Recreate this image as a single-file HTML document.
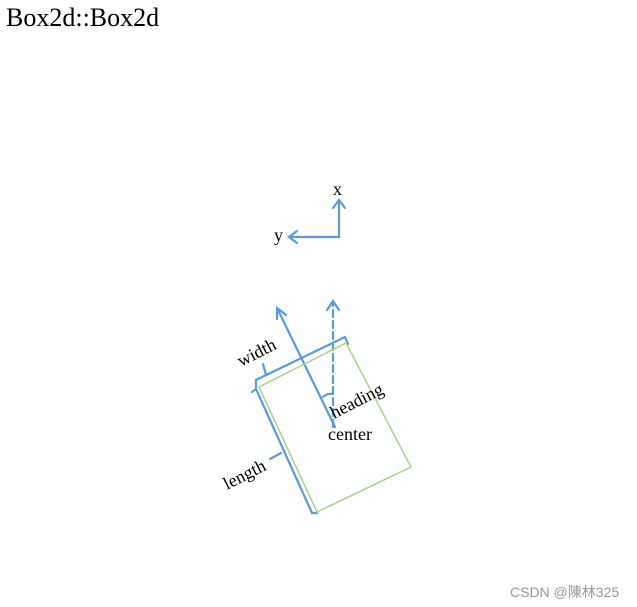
<!DOCTYPE html>
<html><head><meta charset="utf-8"><style>
body{margin:0;background:#fff;width:637px;height:607px;overflow:hidden;position:relative;font-family:"Liberation Serif",serif}
#title{position:absolute;left:6px;top:3px;font-size:26px;color:#000}
#wm{position:absolute;left:510px;top:582px;font-family:"Liberation Sans","Noto Sans CJK SC",sans-serif;font-size:14px;color:#999}
svg{position:absolute;left:0;top:0}
</style></head><body>
<div id="title">Box2d::Box2d</div>
<svg width="637" height="607" font-family="Liberation Serif, serif" font-size="18">
<g stroke="#5b9bd5" stroke-width="2.2" fill="none" stroke-linecap="round">
<path d="M339,237 L339,200 M333,208 L339,200 L345,208"/>
<path d="M339,237 L289,237 M297,231 L289,237 L297,243"/>
<path d="M335,427 L277,308 M277,319 L277,308 L286,315"/>
<path stroke-dasharray="7,4" d="M333,427 L333,302"/>
<path d="M327,310 L333,301 L339,310"/>
<path d="M323,397 Q327,393 333,394"/>
<path d="M256,387 L256,380 L345,337 L348,344 M266,375 L263,364"/>
<path d="M252,392 L256,389 L312,513 L317,513 M281,453 L270,459"/>
</g>
<polygon points="259,387 346,343 411,467 317,512" fill="none" stroke="#a9d18e" stroke-width="1.5"/>
<text x="333" y="195">x</text>
<text x="274" y="241">y</text>
<text x="328" y="440">center</text>
<text transform="translate(241,367) rotate(-27)">width</text>
<text transform="translate(227,490) rotate(-27)">length</text>
<text transform="translate(334,419) rotate(-27)">heading</text>
</svg>
<div id="wm">CSDN @陳林325</div>
</body></html>
